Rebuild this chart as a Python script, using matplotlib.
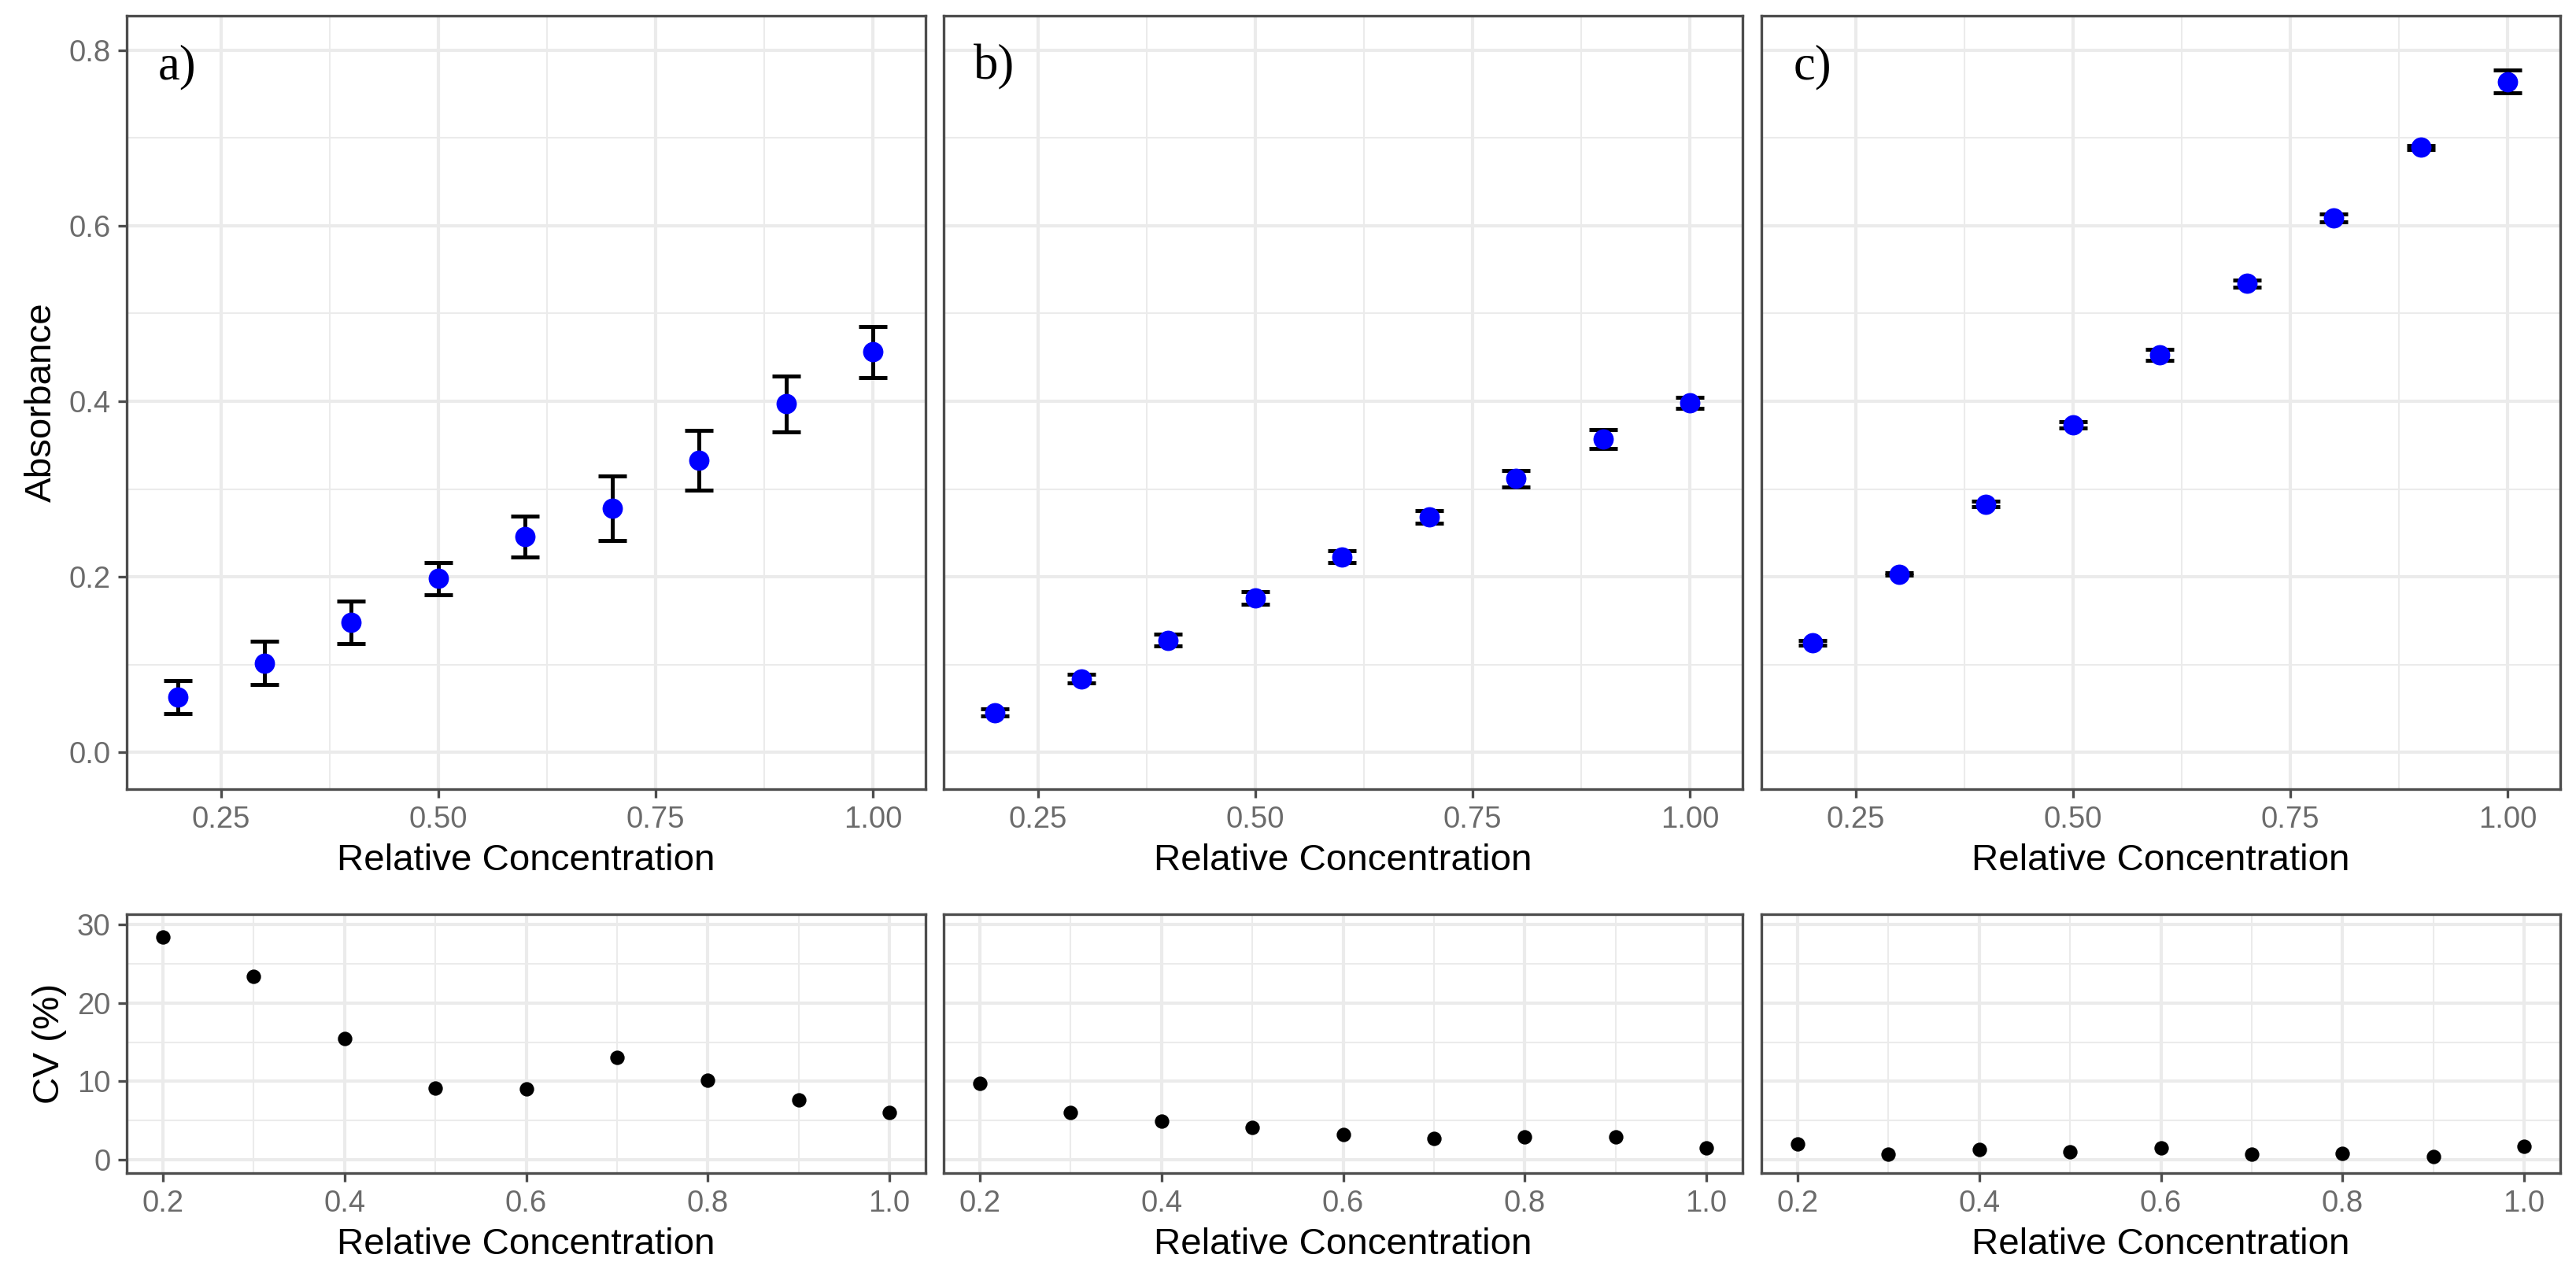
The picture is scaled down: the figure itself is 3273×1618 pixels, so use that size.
import numpy as np
import matplotlib
matplotlib.use("Agg")
import matplotlib.pyplot as plt
from matplotlib.ticker import MultipleLocator, FormatStrFormatter

# Data
conc = [0.2, 0.3, 0.4, 0.5, 0.6, 0.7, 0.8, 0.9, 1.0]
panel_labels = ["a)", "b)", "c)"]

abs_a = [0.063, 0.102, 0.148, 0.198, 0.246, 0.278, 0.333, 0.397, 0.456]
sd_a = [0.0185, 0.0245, 0.024, 0.0185, 0.023, 0.037, 0.034, 0.0315, 0.0295]
cv_a = [28.4, 23.4, 15.5, 9.1, 9.0, 13.0, 10.1, 7.6, 6.0]

abs_b = [0.0456, 0.084, 0.128, 0.176, 0.223, 0.268, 0.312, 0.357, 0.3985]
sd_b = [0.0044, 0.005, 0.0064, 0.0071, 0.0071, 0.0072, 0.0094, 0.011, 0.0064]
cv_b = [9.7, 6.0, 4.9, 4.05, 3.2, 2.7, 2.9, 2.9, 1.5]

abs_c = [0.125, 0.203, 0.283, 0.373, 0.453, 0.534, 0.609, 0.689, 0.764]
sd_c = [0.0025, 0.0014, 0.0034, 0.0037, 0.0063, 0.0037, 0.0043, 0.0021, 0.0132]
cv_c = [2.0, 0.7, 1.24, 1.0, 1.46, 0.7, 0.77, 0.36, 1.64]

means = [abs_a, abs_b, abs_c]
sds = [sd_a, sd_b, sd_c]
cvs = [cv_a, cv_b, cv_c]

W, H, DPI = 3273, 1618, 300
TICK_COLOR = "#6b6b6b"
BORDER_COLOR = "#4d4d4d"
GRID_COLOR = "#ebebeb"
TICK_SIZE = 9.2
TITLE_SIZE = 11.4

plt.rcParams["font.family"] = ["Liberation Sans", "DejaVu Sans"]


def style_axis(ax, show_y):
    """ggplot theme_bw look"""
    ax.set_facecolor("white")
    for s in ax.spines.values():
        s.set_color(BORDER_COLOR)
        s.set_linewidth(0.8)
    ax.grid(which="major", color=GRID_COLOR, linewidth=1.0, zorder=0)
    ax.grid(which="minor", color=GRID_COLOR, linewidth=0.5, zorder=0)
    ax.set_axisbelow(True)
    ax.tick_params(which="major", length=2.75, width=0.8, color=BORDER_COLOR,
                   labelcolor=TICK_COLOR, labelsize=TICK_SIZE, pad=2.2)
    ax.tick_params(which="minor", length=0)
    if not show_y:
        ax.tick_params(axis="y", which="both", left=False, labelleft=False)
    ax.set_xlabel("Relative Concentration", fontsize=TITLE_SIZE, labelpad=3)


fig = plt.figure(figsize=(W / DPI, H / DPI), dpi=DPI)

lefts = [161 / W, 1199 / W, 2238 / W]
width = 1015 / W
top_row = (1 - 1003 / H, (1003 - 20) / H)
bot_row = (1 - 1491 / H, (1491 - 1162) / H)

for i in range(3):
    # Absorbance panel
    ax = fig.add_axes([lefts[i], top_row[0], width, top_row[1]])
    ax.errorbar(conc, means[i], yerr=sds[i], fmt="none", ecolor="black",
                elinewidth=1.2, capsize=4.4, capthick=1.2, zorder=3)
    ax.plot(conc, means[i], "o", color="#0000ff", markersize=6.2,
            markeredgewidth=0, zorder=4)
    ax.set_xlim(0.1416, 1.0603)
    ax.set_ylim(-0.0417, 0.839)
    ax.xaxis.set_major_locator(MultipleLocator(0.25))
    ax.xaxis.set_minor_locator(MultipleLocator(0.125))
    ax.xaxis.set_major_formatter(FormatStrFormatter("%.2f"))
    ax.yaxis.set_major_locator(MultipleLocator(0.2))
    ax.yaxis.set_minor_locator(MultipleLocator(0.1))
    ax.yaxis.set_major_formatter(FormatStrFormatter("%.1f"))
    style_axis(ax, show_y=(i == 0))
    ax.text(0.2, 0.78, panel_labels[i], ha="center", va="center",
            fontsize=15, family=["Liberation Serif", "DejaVu Serif"])
    if i == 0:
        ax.set_ylabel("Absorbance", fontsize=TITLE_SIZE, labelpad=3)

    # CV panel
    ax2 = fig.add_axes([lefts[i], bot_row[0], width, bot_row[1]])
    ax2.plot(conc, cvs[i], "o", color="black", markersize=4.4,
             markeredgewidth=0, zorder=4)
    ax2.set_xlim(0.16, 1.04)
    ax2.set_ylim(-1.75, 31.35)
    ax2.xaxis.set_major_locator(MultipleLocator(0.2))
    ax2.xaxis.set_minor_locator(MultipleLocator(0.1))
    ax2.xaxis.set_major_formatter(FormatStrFormatter("%.1f"))
    ax2.yaxis.set_major_locator(MultipleLocator(10))
    ax2.yaxis.set_minor_locator(MultipleLocator(5))
    style_axis(ax2, show_y=(i == 0))
    if i == 0:
        ax2.set_ylabel("CV (%)", fontsize=TITLE_SIZE, labelpad=3)

fig.savefig("out.png", dpi=DPI, facecolor="white")
